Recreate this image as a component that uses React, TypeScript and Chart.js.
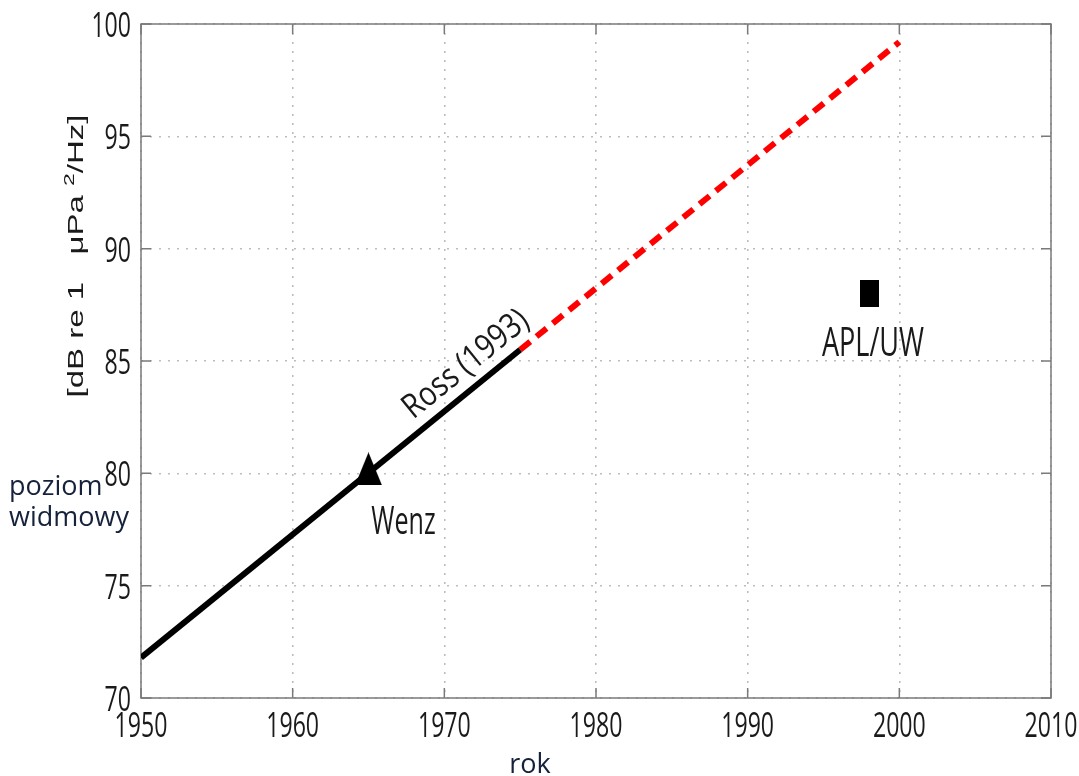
import React, { useEffect, useRef } from "react";
import { Chart, registerables } from "chart.js";
Chart.register(...registerables);

// ---- data ----
const rossYears = [1950, 1975];
const rossLevels = [71.8, 85.5];
const projYears = [1975, 2000];
const projLevels = [85.5, 99.2];
const wenzYears = [1965];
const wenzLevels = [80.2];
const aplYears = [1998];
const aplLevels = [88.0];
const xTickValues = [1950, 1960, 1970, 1980, 1990, 2000, 2010];
const yTickValues = [70, 75, 80, 85, 90, 95, 100];
const rossLabel = "Ross (1993)";
const wenzLabel = "Wenz";
const aplLabel = "APL/UW";
const yTitleParts = ["[dB re 1   \u03bcPa ", "2", "/Hz]"];
const xTitle = "rok";
const sideLabel = ["poziom", "widmowy"];

const C = 0.66; // horizontal compression of the original figure text
const TEXT = "#1a1a1a";
const NAVY = "#16213b";
const FRAME = "#7a7a7a";

function origText(
  ctx: CanvasRenderingContext2D,
  text: string,
  x: number,
  y: number,
  font: string,
  align: CanvasTextAlign,
  baseline: CanvasTextBaseline
) {
  ctx.save();
  ctx.translate(x, y);
  ctx.scale(C, 1);
  ctx.font = font;
  ctx.fillStyle = TEXT;
  ctx.textAlign = align;
  ctx.textBaseline = baseline;
  ctx.fillText(text, 0, 0);
  ctx.restore();
}

const decor = {
  id: "decor",
  beforeDatasetsDraw(chart: any) {
    const { ctx, chartArea: a } = chart;
    const xs = chart.scales.x;
    const ys = chart.scales.y;
    ctx.save();
    ctx.strokeStyle = FRAME;
    ctx.lineWidth = 1.5;
    ctx.setLineDash([]);
    ctx.strokeRect(a.left, a.top, a.right - a.left, a.bottom - a.top);
    const tl = 10;
    ctx.beginPath();
    xs.ticks.forEach((t: any) => {
      const px = xs.getPixelForValue(t.value);
      ctx.moveTo(px, a.bottom);
      ctx.lineTo(px, a.bottom - tl);
      ctx.moveTo(px, a.top);
      ctx.lineTo(px, a.top + tl);
    });
    ys.ticks.forEach((t: any) => {
      const py = ys.getPixelForValue(t.value);
      ctx.moveTo(a.left, py);
      ctx.lineTo(a.left + tl, py);
      ctx.moveTo(a.right, py);
      ctx.lineTo(a.right - tl, py);
    });
    ctx.stroke();
    ctx.restore();
  },
  afterDraw(chart: any) {
    const { ctx, chartArea: a } = chart;
    const xs = chart.scales.x;
    const ys = chart.scales.y;
    const tickFont = "35px 'Open Sans'";
    xs.ticks.forEach((t: any) => {
      origText(ctx, String(t.value), xs.getPixelForValue(t.value), a.bottom + 39, tickFont, "center", "alphabetic");
    });
    ys.ticks.forEach((t: any) => {
      origText(ctx, String(t.value), a.left - 10, ys.getPixelForValue(t.value) + 13, tickFont, "right", "alphabetic");
    });

    // Ross label along the line
    const x0 = xs.getPixelForValue(rossYears[0]);
    const y0 = ys.getPixelForValue(rossLevels[0]);
    const x1 = xs.getPixelForValue(rossYears[1]);
    const y1 = ys.getPixelForValue(rossLevels[1]);
    const f = 0.895;
    const ax = x0 + (x1 - x0) * f;
    const ay = y0 + (y1 - y0) * f;
    const ang = Math.atan2(y1 - y0, x1 - x0);
    ctx.save();
    ctx.translate(ax, ay);
    ctx.rotate(ang);
    ctx.scale(0.84, 1);
    ctx.font = "34px 'Open Sans'";
    ctx.fillStyle = TEXT;
    ctx.textAlign = "center";
    ctx.textBaseline = "alphabetic";
    ctx.fillText(rossLabel, 0, -13);
    ctx.restore();

    // Wenz
    const wx = xs.getPixelForValue(wenzYears[0]);
    const wy = ys.getPixelForValue(wenzLevels[0]);
    origText(ctx, wenzLabel, wx + 35, wy + 65, "38px 'Open Sans'", "center", "alphabetic");

    // APL/UW
    const px = xs.getPixelForValue(aplYears[0]);
    const py = ys.getPixelForValue(aplLevels[0]);
    origText(ctx, aplLabel, px + 4, py + 62, "41px 'Open Sans'", "center", "alphabetic");

    // y title (rotated, compressed across)
    ctx.save();
    ctx.translate(77, (a.top + a.bottom) / 2 - 105);
    ctx.scale(C, 1);
    ctx.rotate(-Math.PI / 2);
    ctx.fillStyle = TEXT;
    ctx.textBaseline = "middle";
    ctx.textAlign = "left";
    const big = "33px 'Liberation Sans'";
    const small = "23px 'Liberation Sans'";
    ctx.font = big;
    const w0 = ctx.measureText(yTitleParts[0]).width;
    const w2 = ctx.measureText(yTitleParts[2]).width;
    ctx.font = small;
    const w1 = ctx.measureText(yTitleParts[1]).width;
    let cx = -(w0 + w1 + w2) / 2;
    ctx.font = big;
    ctx.fillText(yTitleParts[0], cx, 0);
    cx += w0;
    ctx.font = small;
    ctx.fillText(yTitleParts[1], cx, -11);
    cx += w1;
    ctx.font = big;
    ctx.fillText(yTitleParts[2], cx, 0);
    ctx.restore();

    // added labels
    ctx.save();
    ctx.fillStyle = NAVY;
    ctx.font = "27px 'Open Sans'";
    ctx.textAlign = "left";
    ctx.textBaseline = "alphabetic";
    ctx.fillText(sideLabel[0], 9, 495);
    ctx.fillText(sideLabel[1], 9, 526);
    ctx.textAlign = "center";
    ctx.fillText(xTitle, (a.left + a.right) / 2 - 66, 773);
    ctx.restore();
  },
};

function makeShape(w: number, h: number, kind: "tri" | "rect") {
  const c = document.createElement("canvas");
  c.width = w;
  c.height = h;
  const g = c.getContext("2d")!;
  g.fillStyle = "#000";
  if (kind === "rect") {
    g.fillRect(0, 0, w, h);
  } else {
    g.beginPath();
    g.moveTo(w / 2, 0);
    g.lineTo(w, h);
    g.lineTo(0, h);
    g.closePath();
    g.fill();
  }
  return c;
}

export default function App() {
  const ref = useRef<HTMLCanvasElement>(null);
  useEffect(() => {
    const tri = makeShape(27, 33, "tri");
    const sq = makeShape(19, 27, "rect");
    const toPts = (xs: number[], ys: number[]) => xs.map((x, i) => ({ x, y: ys[i] }));
    const chart = new Chart(ref.current!, {
      type: "scatter",
      data: {
        datasets: [
          {
            data: toPts(rossYears, rossLevels),
            showLine: true,
            borderColor: "#000",
            borderWidth: 6,
            pointRadius: 0,
          },
          {
            data: toPts(projYears, projLevels),
            showLine: true,
            borderColor: "#ff0000",
            borderWidth: 6,
            borderDash: [13, 8],
            pointRadius: 0,
          },
          {
            data: toPts(wenzYears, wenzLevels),
            pointStyle: tri as any,
            pointRadius: 14,
          },
          {
            data: toPts(aplYears, aplLevels),
            pointStyle: sq as any,
            pointRadius: 14,
          },
        ] as any,
      },
      options: {
        animation: false,
        responsive: false,
        devicePixelRatio: 1,
        events: [],
        layout: { padding: { top: 24, right: 28, left: 0, bottom: 0 } },
        plugins: { legend: { display: false }, tooltip: { enabled: false } },
        scales: {
          x: {
            type: "linear",
            min: xTickValues[0],
            max: xTickValues[xTickValues.length - 1],
            afterBuildTicks: (s: any) => {
              s.ticks = xTickValues.map((v) => ({ value: v }));
            },
            ticks: { display: false },
            grid: { color: "#bdbdbd", lineWidth: 1.6, drawTicks: false },
            border: { display: false, dash: [2, 7] },
            afterFit: (s: any) => {
              s.height = 78;
            },
          },
          y: {
            type: "linear",
            min: yTickValues[0],
            max: yTickValues[yTickValues.length - 1],
            afterBuildTicks: (s: any) => {
              s.ticks = yTickValues.map((v) => ({ value: v }));
            },
            ticks: { display: false },
            grid: { color: "#bdbdbd", lineWidth: 1.6, drawTicks: false },
            border: { display: false, dash: [2, 7] },
            afterFit: (s: any) => {
              s.width = 141;
            },
          },
        },
      } as any,
      plugins: [decor],
    });
    return () => chart.destroy();
  }, []);
  return (
    <div style={{ position: "fixed", left: 0, top: 0, width: 1079, height: 776, background: "#fff" }}>
      <canvas ref={ref} width={1079} height={776} style={{ display: "block" }} />
    </div>
  );
}
